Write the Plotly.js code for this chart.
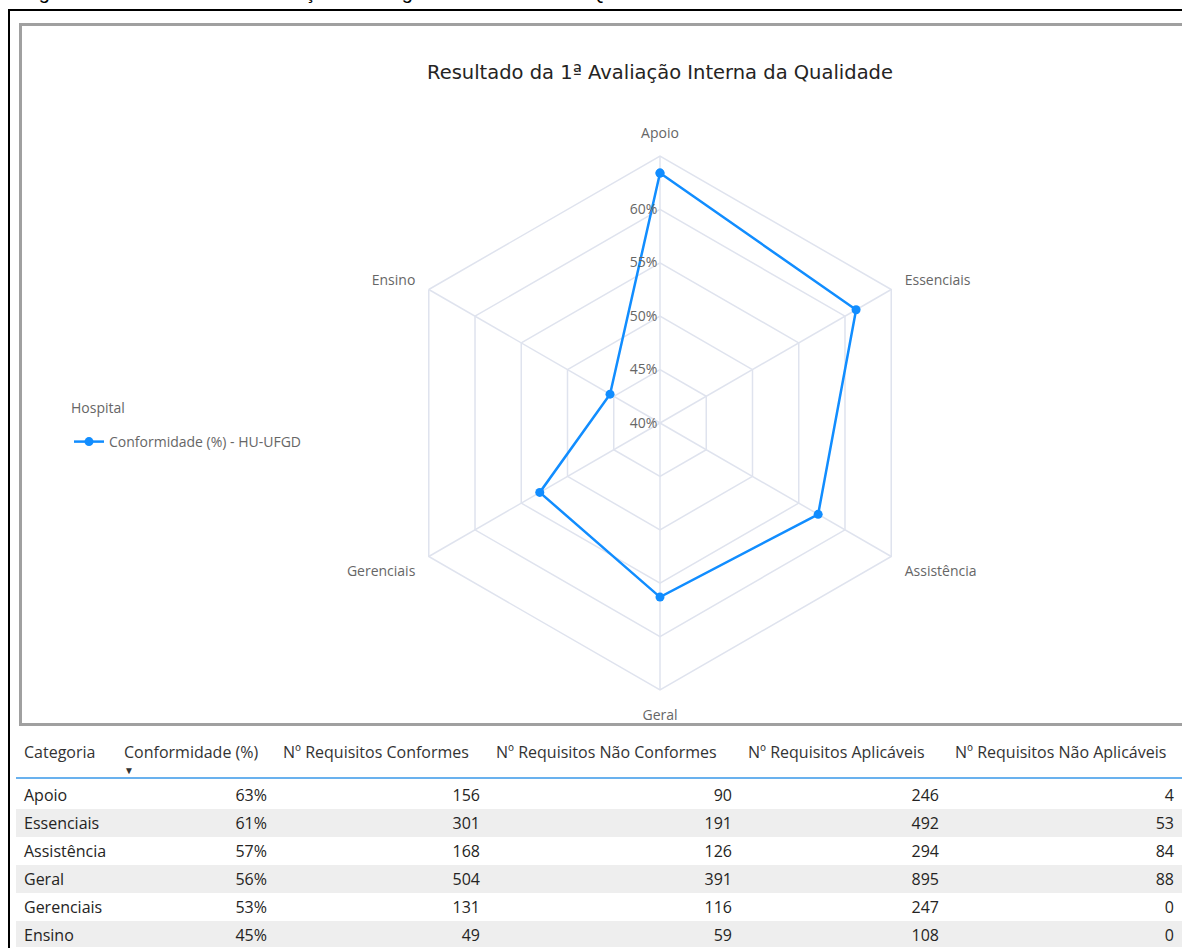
<!DOCTYPE html>
<html>
<head>
<meta charset="utf-8">
<script src="https://cdn.plot.ly/plotly-3.0.1.min.js"></script>
<style>
html,body{margin:0;padding:0;background:#fff;overflow:hidden;}
#chart{width:1182px;height:948px;}
</style>
</head>
<body>
<div id="chart"></div>
<script>
// ---- data ----
var categories = ['Apoio', 'Essenciais', 'Assistência', 'Geral', 'Gerenciais', 'Ensino'];
var conformidade = [63.4, 61.2, 57.1, 56.3, 53.0, 45.4];
var conformidadeLabels = ['63%', '61%', '57%', '56%', '53%', '45%'];
var conformes = [156, 301, 168, 504, 131, 49];
var naoConformes = [90, 191, 126, 391, 116, 59];
var aplicaveis = [246, 492, 294, 895, 247, 108];
var naoAplicaveis = [4, 53, 84, 88, 0, 0];
var radialTicks = [40, 45, 50, 55, 60];
var radialTickText = ['40%', '45%', '50%', '55%', '60%'];
var tableHeaders = ['Categoria', 'Conformidade (%)', 'Nº Requisitos Conformes', 'Nº Requisitos Não Conformes', 'Nº Requisitos Aplicáveis', 'Nº Requisitos Não Aplicáveis'];
var seriesName = 'Conformidade (%) - HU-UFGD';
var legendTitle = 'Hospital';
var chartTitle = 'Resultado da 1ª Avaliação Interna da Qualidade';
var figureCaption = 'Figura 3 - Instrumento de Avaliação do Programa de Gestão da Qualidade no HU-UFGD';

var W = 1182, H = 948;
function px(x){return x / W;}
function py(y){return 1 - y / H;}

var gridColor = '#dfe3ee';
var textGray = '#666666';

var radar = {
  type: 'scatterpolar',
  mode: 'lines+markers',
  name: seriesName,
  r: conformidade.concat([conformidade[0]]),
  theta: categories.concat([categories[0]]),
  line: {color: '#118DFF', width: 2.5},
  marker: {color: '#118DFF', size: 9},
  showlegend: true,
  hoverinfo: 'skip'
};

var rowFill = categories.map(function(c, i){ return i % 2 === 0 ? '#ffffff' : '#eeeeee'; });

var table = {
  type: 'table',
  domain: {x: [px(16), 1], y: [0, py(738)]},
  columnwidth: [100, 159, 213, 252, 207, 235],
  header: {
    values: tableHeaders,
    align: ['left', 'left', 'left', 'left', 'left', 'left'],
    height: 43,
    fill: {color: '#ffffff'},
    line: {color: '#ffffff', width: 0},
    font: {family: 'Open Sans, sans-serif', size: 16, color: '#333333'}
  },
  cells: {
    values: [categories, conformidadeLabels, conformes, naoConformes, aplicaveis, naoAplicaveis],
    align: ['left', 'right', 'right', 'right', 'right', 'right'],
    height: 28,
    fill: {color: [rowFill, rowFill, rowFill, rowFill, rowFill, rowFill]},
    line: {color: [rowFill, rowFill, rowFill, rowFill, rowFill, rowFill], width: 1},
    font: {family: 'Open Sans, sans-serif', size: 16, color: '#252423'}
  }
};

var layout = {
  width: W, height: H,
  margin: {l: 0, r: 0, t: 0, b: 0},
  paper_bgcolor: '#ffffff',
  font: {family: 'Open Sans, sans-serif', size: 14, color: textGray},
  title: {
    text: chartTitle,
    x: px(660), xanchor: 'center', xref: 'paper',
    y: py(72), yanchor: 'middle', yref: 'container',
    font: {family: 'DejaVu Sans, sans-serif', size: 19.5, color: '#252423'}
  },
  showlegend: true,
  legend: {
    title: {text: '<span style="font-size:14px">' + legendTitle + '</span><br> ', font: {size: 10, color: textGray}},
    x: px(69), xanchor: 'left', y: py(400), yanchor: 'top',
    font: {size: 14, color: textGray},
    bgcolor: 'rgba(0,0,0,0)'
  },
  polar: {
    domain: {x: [px(660 - 267), px(660 + 267)], y: [py(423 + 267), py(423 - 267)]},
    bgcolor: '#ffffff',
    gridshape: 'linear',
    radialaxis: {
      range: [40, 65],
      tickvals: radialTicks,
      ticktext: radialTickText,
      angle: 90,
      tickangle: 90,
      side: 'counterclockwise',
      showline: false,
      gridcolor: gridColor,
      gridwidth: 1.5,
      ticks: '',
      tickfont: {size: 14, color: textGray}
    },
    angularaxis: {
      type: 'category',
      categoryarray: categories,
      rotation: 90,
      direction: 'clockwise',
      showline: true,
      linecolor: gridColor,
      linewidth: 1.5,
      gridcolor: gridColor,
      gridwidth: 1.5,
      ticks: 'outside',
      ticklen: 12,
      tickcolor: 'rgba(0,0,0,0)',
      tickfont: {size: 14, color: textGray}
    }
  },
  shapes: [
    {type: 'rect', xref: 'paper', yref: 'paper', x0: px(9), x1: 1.05, y0: -0.05, y1: py(10),
     line: {color: '#000000', width: 2}},
    {type: 'rect', xref: 'paper', yref: 'paper', x0: px(20.5), x1: 1.05, y0: py(724.5), y1: py(24.5),
     line: {color: '#a0a0a0', width: 3}},
    {type: 'line', xref: 'paper', yref: 'paper', x0: px(16), x1: 1, y0: py(778), y1: py(778),
     line: {color: '#69b1ee', width: 2}}
  ],
  annotations: [
    {text: figureCaption, xref: 'paper', yref: 'paper', x: px(20), xanchor: 'left',
     y: py(5), yanchor: 'bottom', showarrow: false,
     font: {family: 'Liberation Sans, sans-serif', size: 20, color: '#000000'}},
    {text: '▼', xref: 'paper', yref: 'paper', x: px(129), xanchor: 'center',
     y: py(770), yanchor: 'middle', showarrow: false,
     font: {size: 10, color: '#333333'}}
  ]
};

Plotly.newPlot('chart', [radar, table], layout, {displayModeBar: false, staticPlot: true});
</script>
</body>
</html>
